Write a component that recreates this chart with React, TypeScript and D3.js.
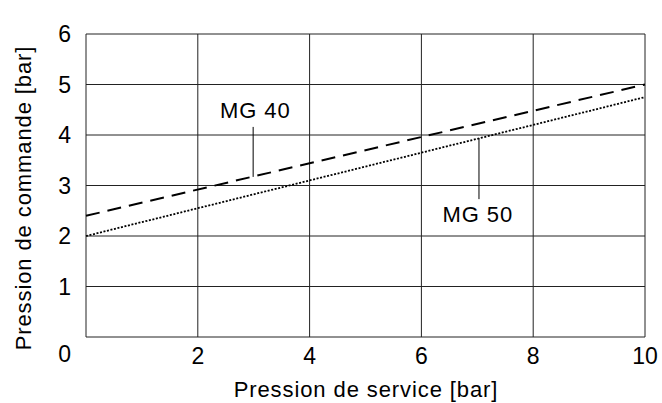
import React, { useEffect } from "react";
import * as d3 from "d3";

const xTicks = [2, 4, 6, 8, 10];
const yTicks = [1, 2, 3, 4, 5, 6];
const gridX = [0, 2, 4, 6, 8, 10];
const gridY = [0, 1, 2, 3, 4, 5, 6];
const mg40 = [
  { x: 0, y: 2.4 },
  { x: 10, y: 5.0 },
];
const mg50 = [
  { x: 0, y: 2.0 },
  { x: 10, y: 4.75 },
];
const labels = [
  { text: "MG 40", x: 3.03, y: 4.34, lx: 2.99, ly0: 4.16, ly1: 3.17 },
  { text: "MG 50", x: 7.01, y: 2.28, lx: 7.03, ly0: 3.94, ly1: 2.73 },
];

const W = 662;
const H = 403;
const m = { left: 86, right: 17, top: 34, bottom: 66 };

export default function App() {
  useEffect(() => {
    document.body.style.margin = "0";
  }, []);
  const x = d3.scaleLinear().domain([0, 10]).range([m.left, W - m.right]);
  const y = d3.scaleLinear().domain([0, 6]).range([H - m.bottom, m.top]);
  const line = d3
    .line<{ x: number; y: number }>()
    .x((d) => x(d.x))
    .y((d) => y(d.y));
  const font = "Liberation Sans, Arial, sans-serif";
  const ls = 0.9;
  return (
    <svg width={W} height={H} style={{ display: "block", background: "#fff" }} fontFamily={font}>
      {gridX.map((v) => (
        <line key={"gx" + v} x1={x(v)} x2={x(v)} y1={y(0)} y2={y(6)} stroke="#222" strokeWidth={1} />
      ))}
      {gridY.map((v) => (
        <line key={"gy" + v} x1={x(0)} x2={x(10)} y1={y(v)} y2={y(v)} stroke="#222" strokeWidth={1} />
      ))}
      <path d={line(mg40) || ""} fill="none" stroke="#000" strokeWidth={2} strokeDasharray="14 8" />
      <path d={line(mg50) || ""} fill="none" stroke="#000" strokeWidth={1.8} strokeDasharray="2 1.6" />
      {labels.map((l) => (
        <g key={l.text}>
          <line x1={x(l.lx)} x2={x(l.lx)} y1={y(l.ly0)} y2={y(l.ly1)} stroke="#000" strokeWidth={1} />
          <text x={x(l.x)} y={y(l.y)} fontSize={22} letterSpacing={ls} textAnchor="middle">
            {l.text}
          </text>
        </g>
      ))}
      {yTicks.map((v) => (
        <text key={"yt" + v} x={71} y={y(v)} dy="0.36em" fontSize={23} textAnchor="end">
          {v}
        </text>
      ))}
      <text x={71} y={362} fontSize={23} textAnchor="end">
        0
      </text>
      {xTicks.map((v) => (
        <text key={"xt" + v} x={x(v)} y={364} fontSize={23} textAnchor="middle">
          {v}
        </text>
      ))}
      <text x={366} y={397} fontSize={22} letterSpacing={ls} textAnchor="middle">
        Pression de service [bar]
      </text>
      <text
        transform={`translate(31, 198) rotate(-90)`}
        fontSize={22}
        letterSpacing={ls}
        textAnchor="middle"
      >
        Pression de commande [bar]
      </text>
    </svg>
  );
}
